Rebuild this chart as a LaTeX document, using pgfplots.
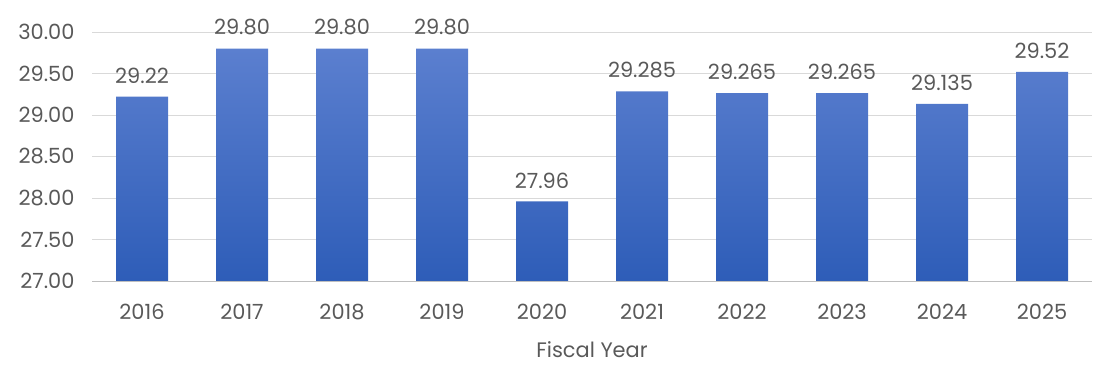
\documentclass[border=0pt]{standalone}
\usepackage{pgfplots}
\pgfplotsset{compat=1.18}
\usepackage{fontspec}
\setmainfont{Poppins}
\definecolor{txt}{HTML}{595959}
\definecolor{gridc}{HTML}{D9D9D9}
\definecolor{axc}{HTML}{BFBFBF}
\definecolor{bartop}{HTML}{5B7FCF}
\definecolor{barbot}{HTML}{2E5DB8}
\begin{document}
\begin{tikzpicture}
\begin{axis}[
  scale only axis, width=1000bp, height=249bp,
  xmin=-0.5, xmax=9.5, ymin=27, ymax=30,
  ytick={27,27.5,...,30},
  xtick=data,
  xticklabels={2016,2017,2018,2019,2020,2021,2022,2023,2024,2025},
  /pgf/number format/assume math mode=true,
  yticklabel style={/pgf/number format/fixed,/pgf/number format/fixed zerofill,/pgf/number format/precision=2},
  ymajorgrids, xmajorgrids=false, major grid style={draw=gridc, line width=1pt},
  axis line style={draw=none},
  major tick length=0pt,
  ticklabel style={font=\fontsize{21}{25}\selectfont, text=txt},
  yticklabel style={xshift=-14bp},
  xticklabel style={yshift=-20bp},
  xlabel={Fiscal Year}, xlabel style={font=\fontsize{21}{25}\selectfont, text=txt, yshift=-14bp},
  ybar, bar width=0.52,
  nodes near coords,
  point meta=explicit symbolic,
  every node near coord/.append style={font=\fontsize{21}{25}\selectfont, text=txt, inner sep=0pt, anchor=south, yshift=13bp},
  clip=false,
]
\addplot[draw=none, top color=bartop, bottom color=barbot] table[meta=lab] {
x y lab
0 29.22 29.22
1 29.80 29.80
2 29.80 29.80
3 29.80 29.80
4 27.96 27.96
5 29.285 29.285
6 29.265 29.265
7 29.265 29.265
8 29.135 29.135
9 29.52 29.52
};
\draw[color=axc, line width=1pt] (rel axis cs:0,0) -- (rel axis cs:1,0);
\end{axis}
\pgfresetboundingbox
\path (current axis.south west)++(-92bp,-85bp) coordinate (bl);
\path (current axis.north east)++(5bp,32bp) coordinate (tr);
\path[use as bounding box] (bl) rectangle (tr);
\end{tikzpicture}
\end{document}
